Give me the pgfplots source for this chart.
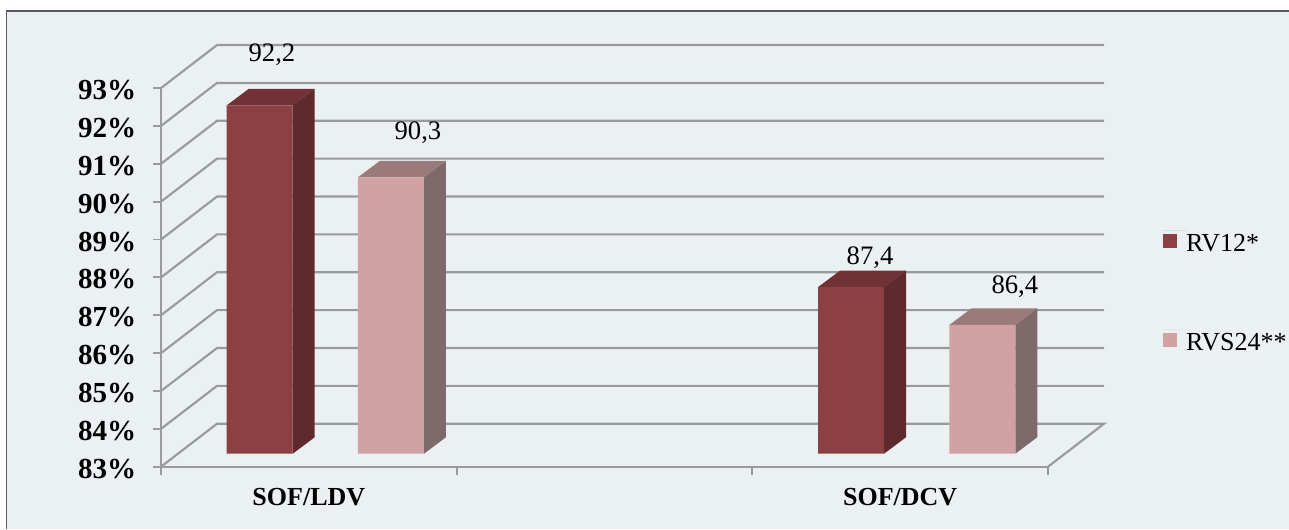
\documentclass[border=0pt]{standalone}
\usepackage{fontspec}
\setmainfont{Liberation Serif}
\usepackage{pgfplots}
\pgfplotsset{compat=1.18}

% 1 px of the reference = 0.75pt
\definecolor{bgc}{HTML}{EBF0F3}
\definecolor{framec}{HTML}{5A5A5A}
\definecolor{gridc}{HTML}{979B9D}
\definecolor{darkfront}{HTML}{8B4044}
\definecolor{darktop}{HTML}{703235}
\definecolor{darkside}{HTML}{5F2A2D}
\definecolor{lightfront}{HTML}{D0A2A4}
\definecolor{lighttop}{HTML}{9B7A7C}
\definecolor{lightside}{HTML}{7F6A6B}

\pgfplotsset{
  floorshift/.style={xshift=12.375pt,yshift=9.75pt,forget plot,draw=none},
}

\begin{document}
\begin{tikzpicture}[x=0.75pt,y=0.75pt]
\path[use as bounding box] (0,0) rectangle (1289,529);
\fill[bgc] (6,0) rectangle (1289,518);
\draw[framec,line width=1.1pt] (6.5,0) -- (6.5,518) -- (1289,518);
\begin{axis}[
  at={(120.75pt,46.7pt)},anchor=south west,
  scale only axis,width=665.25pt,height=284pt,
  xmin=0,xmax=3,ymin=83,ymax=93,
  clip=false,
  axis lines=left,
  axis line style={-,gridc,line width=1.6pt},
  tick style={gridc,line width=1.4pt},
  major tick length=6pt,
  tick align=outside,
  xtick={0,1,2,3},xticklabels={},
  extra x ticks={0.5,2.5},
  extra x tick labels={SOF/LDV,SOF/DCV},
  extra x tick style={major tick length=0pt,
    tick label style={font=\fontsize{19.5}{22}\selectfont\bfseries,text depth=0pt,yshift=-13pt}},
  ytick={83,84,...,93},
  yticklabel={\pgfmathprintnumber{\tick}\%},
  /pgf/number format/assume math mode=true,
  yticklabel style={font=\fontsize{21.8}{24}\selectfont\bfseries,xshift=-9pt,yshift=-1.5pt},
  legend cell align=left,
  legend image code/.code={%
    \begin{pgfinterruptboundingbox}
    \fill[#1] (0pt,-13.65pt) rectangle (10.8pt,-2.85pt);
    \end{pgfinterruptboundingbox}
    \path (0pt,0pt) -- (17.25pt,0pt);},
  legend style={at={(axis cs:3.389,89.246)},anchor=north west,draw=none,fill=none,
    inner sep=0pt,outer sep=0pt,row sep=58pt,
    font=\fontsize{19.5}{22}\selectfont,
    nodes={inner sep=0pt,text depth=0pt}},
]
% floor and back wall
\addplot[gridc,line width=1.6pt,forget plot,unbounded coords=jump] coordinates {
  (0,83) (0.1894,84.1355) (3.1894,84.1355) (3,83) (nan,nan)
  (0,84) (0.1894,85.1355) (3.1894,85.1355) (nan,nan)
  (0,85) (0.1894,86.1355) (3.1894,86.1355) (nan,nan)
  (0,86) (0.1894,87.1355) (3.1894,87.1355) (nan,nan)
  (0,87) (0.1894,88.1355) (3.1894,88.1355) (nan,nan)
  (0,88) (0.1894,89.1355) (3.1894,89.1355) (nan,nan)
  (0,89) (0.1894,90.1355) (3.1894,90.1355) (nan,nan)
  (0,90) (0.1894,91.1355) (3.1894,91.1355) (nan,nan)
  (0,91) (0.1894,92.1355) (3.1894,92.1355) (nan,nan)
  (0,92) (0.1894,93.1355) (3.1894,93.1355) (nan,nan)
  (0,93) (0.1894,94.1355) (3.1894,94.1355)
};
% bar tops and sides
\addplot[floorshift,fill=darktop] coordinates {(0.1664,92.2) (0.3896,92.2) (0.4640,92.6357) (0.2408,92.6357)};
\addplot[floorshift,fill=darkside] coordinates {(0.3896,83) (0.3896,92.2) (0.4640,92.6357) (0.4640,83.4357)};
\addplot[floorshift,fill=lighttop] coordinates {(0.6104,90.3) (0.8336,90.3) (0.9080,90.7357) (0.6848,90.7357)};
\addplot[floorshift,fill=lightside] coordinates {(0.8336,83) (0.8336,90.3) (0.9080,90.7357) (0.9080,83.4357)};
\addplot[floorshift,fill=darktop] coordinates {(2.1664,87.4) (2.3896,87.4) (2.4640,87.8357) (2.2408,87.8357)};
\addplot[floorshift,fill=darkside] coordinates {(2.3896,83) (2.3896,87.4) (2.4640,87.8357) (2.4640,83.4357)};
\addplot[floorshift,fill=lighttop] coordinates {(2.6104,86.4) (2.8336,86.4) (2.9080,86.8357) (2.6848,86.8357)};
\addplot[floorshift,fill=lightside] coordinates {(2.8336,83) (2.8336,86.4) (2.9080,86.8357) (2.9080,83.4357)};
% bar fronts
\addplot[ybar,bar width=49.5pt,bar shift=-49.24pt,xshift=12.375pt,yshift=9.75pt,draw=none,fill=darkfront]
  coordinates {(0.5,92.2) (2.5,87.4)};
\addlegendentry{RV12*}
\addplot[ybar,bar width=49.5pt,bar shift=49.24pt,xshift=12.375pt,yshift=9.75pt,draw=none,fill=lightfront]
  coordinates {(0.5,90.3) (2.5,86.4)};
\addlegendentry{RVS24**}
% value labels
\begin{scope}[every node/.style={anchor=base,font=\fontsize{20}{22}\selectfont}]
\node at (axis cs:0.3754,93.713) {92,2};
\node at (axis cs:0.8692,91.645) {90,3};
\node at (axis cs:2.398,88.345) {87,4};
\node at (axis cs:2.888,87.587) {86,4};
\end{scope}
\end{axis}
\end{tikzpicture}
\end{document}
